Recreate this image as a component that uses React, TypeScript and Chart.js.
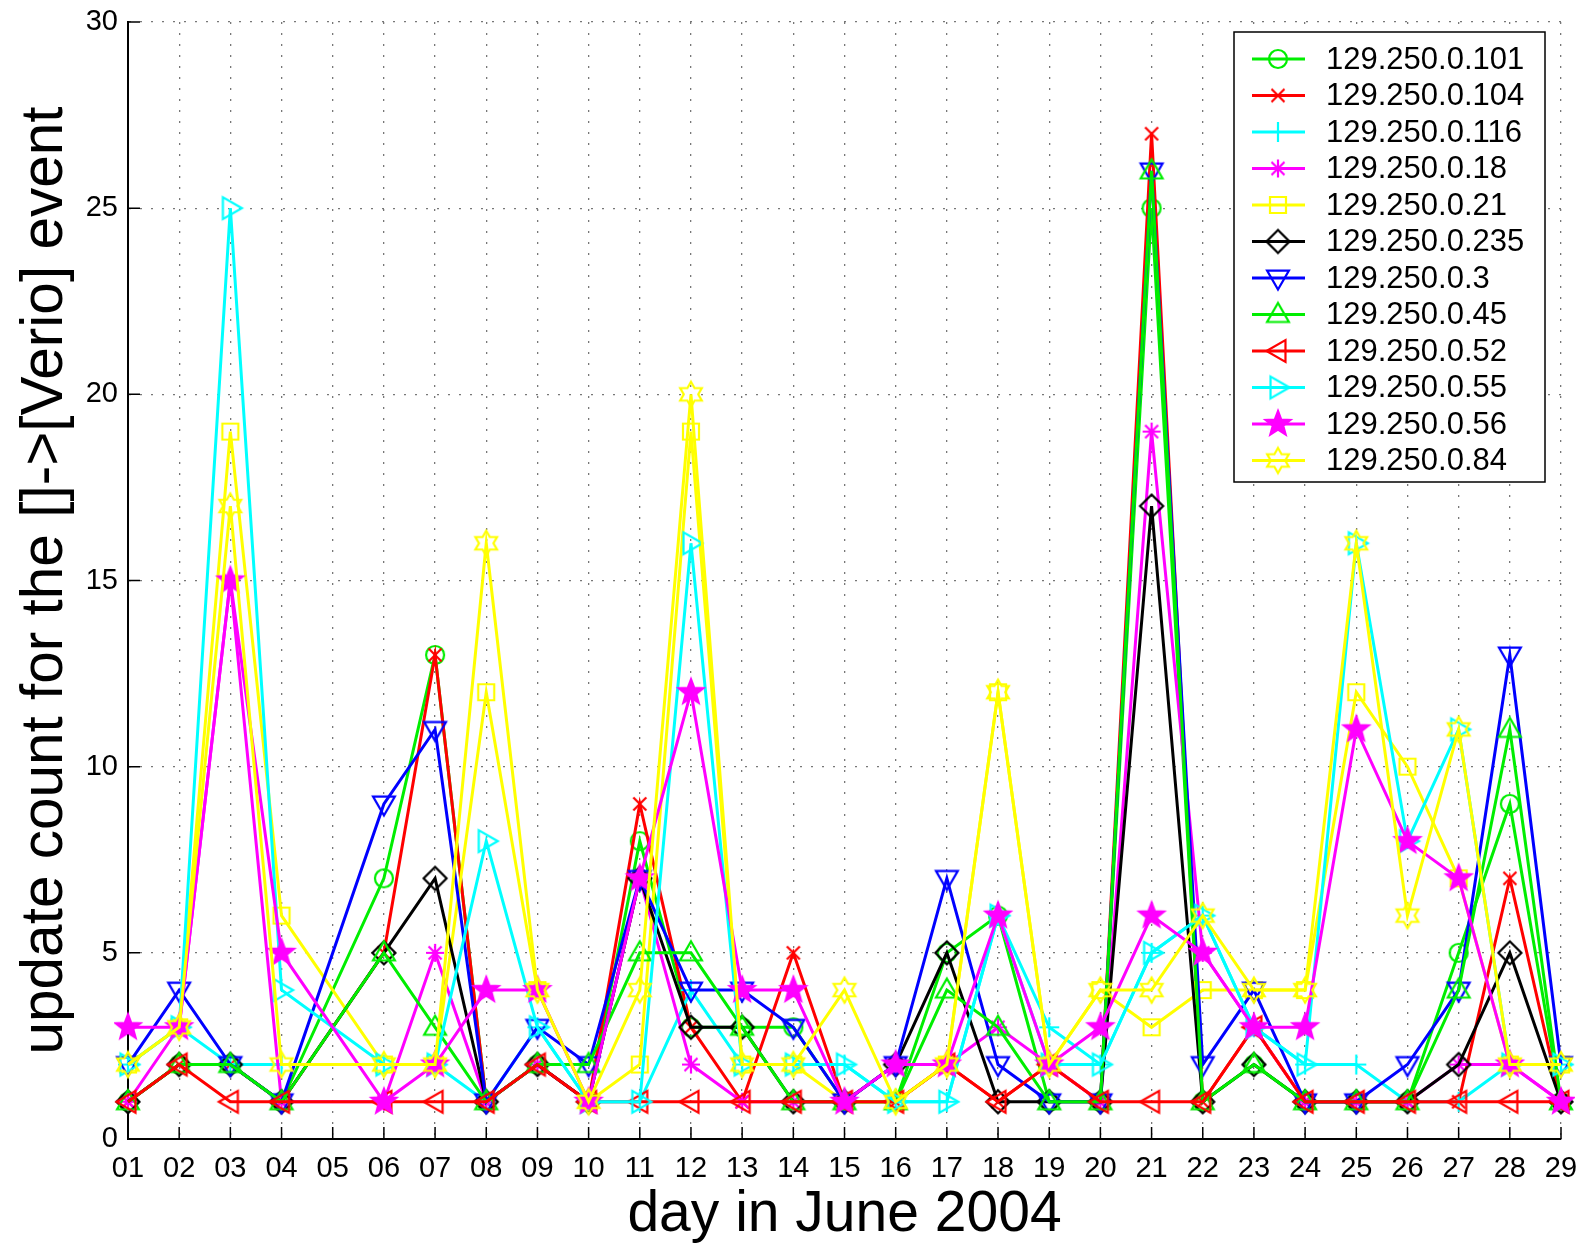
import React, { useEffect, useRef } from 'react';
import { Chart, registerables } from 'chart.js';

Chart.register(...registerables);

// ---------- data ----------
const days = ['01','02','03','04','05','06','07','08','09','10','11','12','13','14','15','16','17','18','19','20','21','22','23','24','25','26','27','28','29'];
const yTicks = [0, 5, 10, 15, 20, 25, 30];

const labels = ['129.250.0.101','129.250.0.104','129.250.0.116','129.250.0.18','129.250.0.21','129.250.0.235','129.250.0.3','129.250.0.45','129.250.0.52','129.250.0.55','129.250.0.56','129.250.0.84'];

const s101 = [1,2,2,1,null,7,13,1,2,1,8,3,3,3,1,1,5,6,1,1,25,1,2,1,1,1,5,9,1];
const s104 = [1,2,2,1,null,5,13,1,2,1,9,3,1,5,1,1,2,1,2,1,27,1,3,1,1,1,1,7,1];
const s116 = [2,3,2,2,null,2,2,1,3,1,1,4,2,2,2,1,1,6,3,2,5,6,3,2,2,1,1,2,2];
const s18  = [1,3,15,1,null,1,5,1,2,1,7,2,1,1,1,2,2,3,2,1,19,5,3,1,1,1,2,2,1];
const s21  = [2,3,19,6,null,2,2,12,4,1,2,19,2,2,1,1,2,12,2,4,3,4,4,4,12,10,7,2,2];
const s235 = [1,2,2,1,null,5,7,1,2,1,7,3,3,1,1,2,5,1,1,1,17,1,2,1,1,1,2,5,1];
const s3   = [2,4,2,1,null,9,11,1,3,2,7,4,4,3,1,2,7,2,1,1,26,2,4,1,1,2,4,13,2];
const s45  = [1,2,2,1,null,5,3,1,2,2,5,5,3,1,1,1,4,3,1,1,26,1,2,1,1,1,4,11,1];
const s52  = [1,2,1,1,null,1,1,1,2,1,1,1,1,1,1,1,2,1,2,1,1,1,3,1,1,1,1,1,1];
const s55  = [2,3,25,4,null,2,2,8,3,1,1,16,2,2,2,1,1,6,2,2,5,6,3,2,16,8,11,2,2];
const s56  = [3,3,15,5,null,1,2,4,4,1,7,12,4,4,1,2,2,6,2,3,6,5,3,3,11,8,7,2,1];
const s84  = [2,3,17,2,null,2,2,16,4,1,4,20,2,2,4,1,2,12,2,4,4,6,4,4,16,6,11,2,2];

const seriesValues = [s101, s104, s116, s18, s21, s235, s3, s45, s52, s55, s56, s84];
const colors = ['#00ee00','#ff0000','#00ffff','#ff00ff','#ffff00','#000000','#0000ff','#00ee00','#ff0000','#00ffff','#ff00ff','#ffff00'];
const markers = ['circle','x','plus','asterisk','square','diamond','tridown','triup','trileft','triright','pentagram','hexagram'];

// ---------- marker canvases ----------
function makeMarker(kind: string, color: string): HTMLCanvasElement {
  const size = 34;
  const c = document.createElement('canvas');
  c.width = size; c.height = size;
  const ctx = c.getContext('2d')!;
  ctx.translate(size / 2, size / 2);
  ctx.strokeStyle = color;
  ctx.fillStyle = color;
  ctx.lineWidth = 2.2;
  ctx.lineJoin = 'miter';
  ctx.beginPath();
  let fill = false;
  const poly = (pts: number[][]) => {
    pts.forEach((p, i) => (i === 0 ? ctx.moveTo(p[0], p[1]) : ctx.lineTo(p[0], p[1])));
    ctx.closePath();
  };
  const r = 11.5;
  switch (kind) {
    case 'circle':
      ctx.arc(0, 0, 9, 0, Math.PI * 2);
      break;
    case 'x':
      ctx.moveTo(-6.5, -6.5); ctx.lineTo(6.5, 6.5); ctx.moveTo(6.5, -6.5); ctx.lineTo(-6.5, 6.5);
      break;
    case 'plus':
      ctx.moveTo(-10, 0); ctx.lineTo(10, 0); ctx.moveTo(0, -10); ctx.lineTo(0, 10);
      break;
    case 'asterisk':
      ctx.moveTo(-9, 0); ctx.lineTo(9, 0); ctx.moveTo(0, -9); ctx.lineTo(0, 9);
      ctx.moveTo(-6.5, -6.5); ctx.lineTo(6.5, 6.5); ctx.moveTo(6.5, -6.5); ctx.lineTo(-6.5, 6.5);
      break;
    case 'square':
      ctx.rect(-8, -8, 16, 16);
      break;
    case 'diamond':
      poly([[0, -r], [r, 0], [0, r], [-r, 0]]);
      break;
    case 'triup':
      poly([[0, -r], [r * 0.95, r * 0.65], [-r * 0.95, r * 0.65]]);
      break;
    case 'tridown':
      poly([[0, r], [r * 0.95, -r * 0.65], [-r * 0.95, -r * 0.65]]);
      break;
    case 'trileft':
      poly([[-r, 0], [r * 0.65, -r * 0.95], [r * 0.65, r * 0.95]]);
      break;
    case 'triright':
      poly([[r, 0], [-r * 0.65, -r * 0.95], [-r * 0.65, r * 0.95]]);
      break;
    case 'pentagram': {
      const pts: number[][] = [];
      for (let i = 0; i < 10; i++) {
        const rr = i % 2 === 0 ? 13 : 5.5;
        const a = -Math.PI / 2 + (i * Math.PI) / 5;
        pts.push([rr * Math.cos(a), rr * Math.sin(a)]);
      }
      poly(pts);
      fill = true;
      break;
    }
    case 'hexagram': {
      const pts: number[][] = [];
      for (let i = 0; i < 12; i++) {
        const rr = i % 2 === 0 ? 12.5 : 7.2;
        const a = -Math.PI / 2 + (i * Math.PI) / 6;
        pts.push([rr * Math.cos(a), rr * Math.sin(a)]);
      }
      poly(pts);
      break;
    }
  }
  if (fill) ctx.fill();
  ctx.stroke();
  return c;
}

const FONT = '"Liberation Sans", Arial, sans-serif';

const legendPlugin = {
  id: 'matlabLegend',
  afterDraw(chart: any) {
    const ctx = chart.ctx as CanvasRenderingContext2D;
    const area = chart.chartArea;
    const w = 311, h = 450;
    const x0 = area.right - 327, y0 = area.top + 10;
    ctx.save();
    ctx.fillStyle = '#ffffff';
    ctx.fillRect(x0, y0, w, h);
    ctx.strokeStyle = '#000';
    ctx.lineWidth = 1.5;
    ctx.strokeRect(x0, y0, w, h);
    const rowH = 36.5;
    chart.data.datasets.forEach((ds: any, i: number) => {
      const y = y0 + 27 + i * rowH;
      ctx.strokeStyle = ds.borderColor;
      ctx.lineWidth = 3;
      ctx.beginPath();
      ctx.moveTo(x0 + 18, y);
      ctx.lineTo(x0 + 71, y);
      ctx.stroke();
      const m = ds.pointStyle as HTMLCanvasElement;
      ctx.drawImage(m, x0 + 44 - m.width / 2, y - m.height / 2);
      ctx.fillStyle = '#000';
      ctx.font = `31px ${FONT}`;
      ctx.textBaseline = 'middle';
      ctx.textAlign = 'left';
      ctx.fillText(ds.label, x0 + 92, y + 1);
    });
    ctx.restore();
  },
};

const innerTicksPlugin = {
  id: 'innerTicks',
  afterDatasetsDraw(chart: any) {
    const ctx = chart.ctx as CanvasRenderingContext2D;
    const xs = chart.scales.x, ys = chart.scales.y;
    const area = chart.chartArea;
    ctx.save();
    ctx.strokeStyle = '#000';
    ctx.lineWidth = 1.5;
    ctx.beginPath();
    xs.ticks.forEach((_: any, i: number) => {
      const px = xs.getPixelForTick(i);
      ctx.moveTo(px, area.bottom);
      ctx.lineTo(px, area.bottom - 12);
    });
    ys.ticks.forEach((_: any, i: number) => {
      const py = ys.getPixelForTick(i);
      ctx.moveTo(area.left, py);
      ctx.lineTo(area.left + 12, py);
    });
    ctx.stroke();
    ctx.restore();
  },
};

export default function App() {
  const ref = useRef<HTMLCanvasElement | null>(null);

  useEffect(() => {
    if (!ref.current) return;
    const datasets = seriesValues.map((vals, i) => ({
      label: labels[i],
      data: vals,
      borderColor: colors[i],
      backgroundColor: colors[i],
      borderWidth: 3,
      pointStyle: makeMarker(markers[i], colors[i]),
      pointRadius: 11,
      pointHoverRadius: 11,
      tension: 0,
      spanGaps: true,
      fill: false,
      order: seriesValues.length - i,
    }));

    const chart = new Chart(ref.current, {
      type: 'line',
      data: { labels: days, datasets },
      options: {
        animation: false,
        responsive: false,
        devicePixelRatio: 1,
        layout: { autoPadding: false, padding: { left: 0, right: 24, top: 22, bottom: 0 } },
        plugins: { legend: { display: false }, tooltip: { enabled: false } },
        scales: {
          x: {
            type: 'category',
            offset: false,
            grid: { color: '#777', lineWidth: 1.3, drawTicks: false },
            border: { display: true, color: '#000', width: 2, dash: [2, 9] },
            ticks: {
              color: '#000',
              font: { family: FONT, size: 29 },
              padding: 13,
              maxRotation: 0,
              autoSkip: false,
            },
            title: {
              display: true,
              text: 'day in June 2004',
              color: '#000',
              font: { family: FONT, size: 57, lineHeight: 1 },
              padding: { top: 0, bottom: 0 },
            },
            afterFit: (scale: any) => {
              scale.height = 105;
              scale.paddingLeft = 0;
              scale.paddingRight = 0;
            },
          },
          y: {
            min: 0,
            max: 30,
            grid: { color: '#777', lineWidth: 1.3, drawTicks: false },
            border: { display: true, color: '#000', width: 2, dash: [2, 9] },
            afterBuildTicks: (scale: any) => { scale.ticks = yTicks.map((v) => ({ value: v })); },
            ticks: {
              color: '#000',
              font: { family: FONT, size: 29 },
              padding: 10,
            },
            title: {
              display: true,
              text: 'update count for the []->[Verio] event',
              color: '#000',
              font: { family: FONT, size: 58.5, lineHeight: 1 },
              padding: { top: 17, bottom: 0 },
            },
            afterFit: (scale: any) => {
              scale.width = 128;
              scale.paddingTop = 0;
              scale.paddingBottom = 0;
            },
          },
        },
      },
      plugins: [innerTicksPlugin, legendPlugin],
    } as any);

    return () => chart.destroy();
  }, []);

  return (
    <div style={{ position: 'absolute', left: 0, top: 0, width: 1585, height: 1244, background: '#fff' }}>
      <canvas ref={ref} width={1585} height={1244} style={{ width: 1585, height: 1244, display: 'block' }} />
    </div>
  );
}
